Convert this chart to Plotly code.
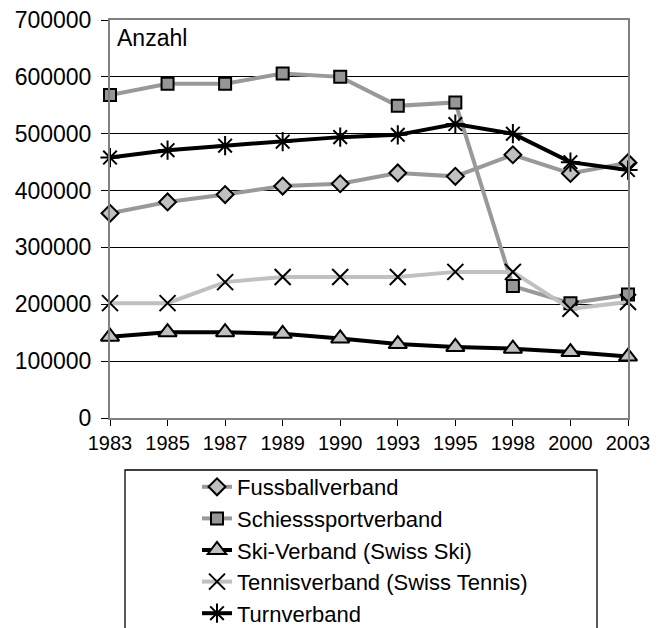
import plotly.graph_objects as go

# Mitgliederzahlen ausgewählter Sportverbände
jahre = ["1983", "1985", "1987", "1989", "1990", "1993", "1995", "1998", "2000", "2003"]

fussball = [360000, 380000, 393000, 408000, 412000, 431000, 425000, 463000, 430000, 449000]
schiesssport = [568000, 588000, 588000, 606000, 600000, 549000, 555000, 232000, 202000, 217000]
ski = [143000, 151000, 151000, 148000, 140000, 130000, 125000, 122000, 116000, 108000]
tennis = [202000, 202000, 239000, 248000, 248000, 248000, 257000, 257000, 192000, 204000]
turn = [458000, 471000, 479000, 486000, 494000, 498000, 517000, 500000, 450000, 436000]

y_ticks = [0, 100000, 200000, 300000, 400000, 500000, 600000, 700000]

FONT = "Liberation Sans, Arial, sans-serif"

series = [
    ("Fussballverband", fussball, "#999999", "diamond", "#c0c0c0", 13),
    ("Schiesssportverband", schiesssport, "#999999", "square", "#969696", 12),
    ("Ski-Verband (Swiss Ski)", ski, "#000000", "triangle-up", "#c0c0c0", 16),
    ("Tennisverband (Swiss Tennis)", tennis, "#c0c0c0", "x-thin-open", "#000000", 16),
    ("Turnverband", turn, "#000000", "asterisk-open", "#000000", 16),
]

fig = go.Figure()
for name, vals, line_col, sym, fill, size in series:
    fig.add_trace(go.Scatter(
        x=jahre, y=vals, name=name, mode="lines+markers",
        line=dict(color=line_col, width=4),
        marker=dict(symbol=sym, size=size, color=fill,
                    line=dict(color="#000000", width=2)),
        cliponaxis=False,
    ))

# Rahmen der Legende (unten offen, läuft über den Seitenrand)
plot_l, plot_r, plot_t, plot_b = 110, 628, 20, 418
pw, ph = plot_r - plot_l, plot_b - plot_t


def px_x(v):
    return (v - plot_l) / pw


def px_y(v):
    return (plot_b - v) / ph


fig.add_shape(type="rect", xref="paper", yref="paper",
              x0=px_x(125), x1=px_x(597), y0=px_y(680), y1=px_y(470),
              line=dict(color="#000000", width=1.3), fillcolor="rgba(0,0,0,0)",
              layer="above")

fig.add_annotation(text="Anzahl", xref="paper", yref="paper",
                   x=px_x(115), y=px_y(38), xanchor="left", yanchor="middle",
                   showarrow=False, font=dict(family=FONT, size=23, color="#000000"))

fig.update_layout(
    width=666, height=628,
    margin=dict(l=plot_l, r=666 - plot_r, t=plot_t, b=628 - plot_b, autoexpand=False),
    paper_bgcolor="white", plot_bgcolor="white",
    font=dict(family=FONT, size=23, color="#000000"),
    showlegend=True,
    legend=dict(
        x=px_x(197), y=px_y(466), xanchor="left", yanchor="top",
        bgcolor="rgba(0,0,0,0)", borderwidth=0,
        font=dict(family=FONT, size=22, color="#000000"),
        traceorder="normal",
    ),
    xaxis=dict(
        type="category", range=[0, len(jahre) - 1],
        showgrid=False, showline=True, linecolor="#808080", linewidth=2,
        mirror=True, ticks="outside", ticklen=6, tickcolor="#000000",
        tickfont=dict(family=FONT, size=20, color="#000000"),
        zeroline=False,
    ),
    yaxis=dict(
        range=[0, 700000], tickvals=y_ticks, ticktext=[str(v) for v in y_ticks],
        showgrid=True, gridcolor="#000000", gridwidth=1,
        showline=True, linecolor="#808080", linewidth=2, mirror=True,
        ticks="outside", ticklen=7, tickcolor="#000000",
        ticklabelstandoff=5,
        tickfont=dict(family=FONT, size=23, color="#000000"),
        zeroline=False,
    ),
)

fig.write_html("out.html")
